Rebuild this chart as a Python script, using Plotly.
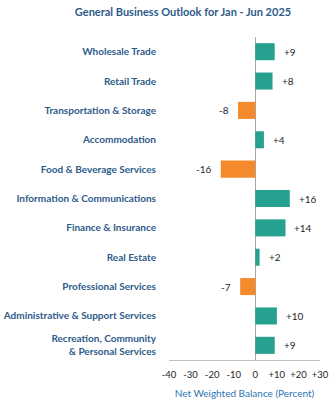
import plotly.graph_objects as go

categories = [
    "Wholesale Trade",
    "Retail Trade",
    "Transportation & Storage",
    "Accommodation",
    "Food & Beverage Services",
    "Information & Communications",
    "Finance & Insurance",
    "Real Estate",
    "Professional Services",
    "Administrative & Support Services",
    "Recreation, Community<br>& Personal Services",
]
values = [9, 8, -8, 4, -16, 16, 14, 2, -7, 10, 9]
tick_vals = [-40, -30, -20, -10, 0, 10, 20, 30]
tick_text = ["-40", "-30", "-20", "-10", "0", "+10", "+20", "+30"]

POS = "#26a08f"
NEG = "#f58a2c"
LABEL = "#2e5b8a"
FONT = "Lato"

colors = [POS if v >= 0 else NEG for v in values]

fig = go.Figure()
fig.add_trace(go.Bar(
    x=values, y=categories, orientation="h",
    marker=dict(color=colors, line=dict(width=0)),
    width=0.58, hoverinfo="skip",
))

for c, v in zip(categories, values):
    fig.add_annotation(
        x=v, y=c, text=(f"+{v}" if v > 0 else f"{v}"),
        showarrow=False,
        xanchor="left" if v >= 0 else "right",
        xshift=7 if v >= 0 else -7,
        font=dict(family=FONT, size=10, color="#262626"),
    )

fig.update_layout(
    width=331, height=403,
    margin=dict(l=169, r=11, t=37, b=43),
    paper_bgcolor="white", plot_bgcolor="white",
    showlegend=False,
    title=dict(
        text="<b>General Business Outlook for Jan - Jun 2025</b>",
        x=183 / 331, xanchor="center", y=1 - 12 / 403, yanchor="middle",
        font=dict(family=FONT, size=11, color=LABEL),
    ),
    xaxis=dict(
        range=[-40, 30], tickvals=tick_vals, ticktext=tick_text, tickangle=0,
        automargin=False,
        showgrid=False, zeroline=True, zerolinecolor="#a6a6a6", zerolinewidth=1,
        showline=True, linecolor="#bfbfbf", linewidth=1,
        ticks="", ticklabelstandoff=6,
        tickfont=dict(family=FONT, size=9.5, color="#262626"),
        title=dict(text="Net Weighted Balance (Percent)", standoff=10,
                   font=dict(family=FONT, size=10, color="#2e75b6")),
        fixedrange=True,
    ),
    yaxis=dict(
        autorange="reversed", showgrid=False, zeroline=False, showline=False,
        automargin=False,
        ticks="", ticklabelstandoff=12,
        tickfont=dict(family=FONT, size=10, color=LABEL, weight="bold"),
        fixedrange=True,
    ),
)

fig.write_html("out.html", config={"displayModeBar": False})
